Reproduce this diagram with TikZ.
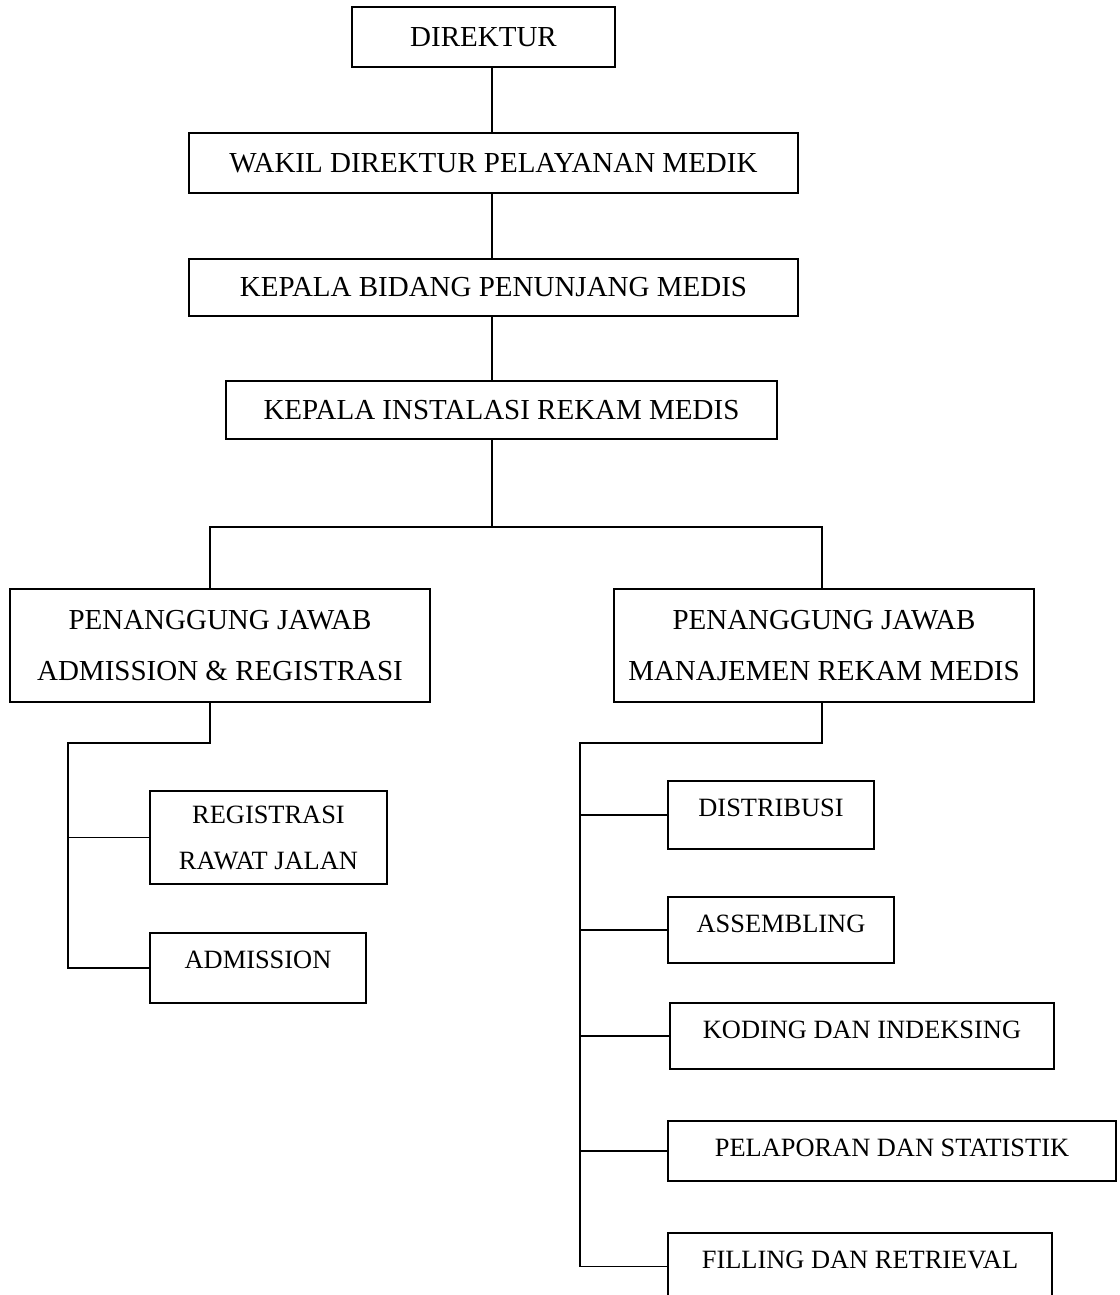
\documentclass[tikz,border=0pt]{standalone}
\usepackage{fontspec}
\setmainfont{Liberation Serif}
\usepackage{tikz}

\begin{document}
\begin{tikzpicture}[x=1pt,y=-1pt,
  box/.style={draw, line width=1.9pt, inner sep=0pt, align=center},
  big/.style={box, font=\fontsize{29}{51}\selectfont},
  small/.style={box, font=\fontsize{26.4}{46}\selectfont},
  topbox/.style={small, text height=35.6pt, text depth=#1},
  link/.style={line width=1.9pt}]
\useasboundingbox (0,0) rectangle (1119,1295);

    % top of the chart
    \node[big, minimum width=263pt, minimum height=60pt] (dir) at (483.5,37) {DIREKTUR};
    \node[big, minimum width=609pt, minimum height=60pt] (wakil) at (493.5,163) {WAKIL DIREKTUR PELAYANAN MEDIK};
    \node[big, minimum width=609pt, minimum height=57pt] (bidang) at (493.5,287.5) {KEPALA BIDANG PENUNJANG MEDIS};
    \node[big, minimum width=551pt, minimum height=58pt] (inst) at (501.5,410) {KEPALA INSTALASI REKAM MEDIS};

    \node[big, minimum width=420pt, minimum height=113pt] (pjadm) at (220,645.5) {PENANGGUNG JAWAB\\ADMISSION \& REGISTRASI};
    \node[big, minimum width=420pt, minimum height=113pt] (pjrm) at (824,645.5) {PENANGGUNG JAWAB\\MANAJEMEN REKAM MEDIS};

    % left branch
    \node[small, minimum width=237pt, minimum height=93pt] (reg) at (268.5,837.5) {REGISTRASI\\RAWAT JALAN};
    \node[topbox=34.4pt, minimum width=216pt] (adm) at (258,968) {ADMISSION};

    % right branch
    \node[topbox=32.4pt, minimum width=206pt] (dis) at (771,815) {DISTRIBUSI};
    \node[topbox=30.4pt, minimum width=226pt] (asm) at (781,930) {ASSEMBLING};
    \node[topbox=30.4pt, minimum width=384pt] (kod) at (862,1036) {KODING DAN INDEKSING};
    \node[topbox=24.4pt, minimum width=448pt] (pel) at (892,1151) {PELAPORAN DAN STATISTIK};
    \node[topbox=31.4pt, minimum width=384pt] (fil) at (860,1266.5) {FILLING DAN RETRIEVAL};

    \coordinate (split) at (492,527);
    \coordinate (jl) at (210,527);
    \coordinate (jr) at (822,527);
    \coordinate (lb) at (68,743);
    \coordinate (rb) at (580,743);

    % draw the lines
    \draw[link] (split |- wakil.north) -- (split |- dir.south);
    \draw[link] (split |- wakil.south) -- (split |- bidang.north);
    \draw[link] (split |- bidang.south) -- (split |- inst.north);
    \draw[link] (split |- inst.south) -- (split);
    \draw[link] (jl |- pjadm.north) -- (jl) -- (jr) -- (jr |- pjrm.north);

    \draw[link] (jl |- pjadm.south) |- (lb) |- (adm.west);
    \draw[link] (lb |- reg.west) -- (reg.west);

    \draw[link] (jr |- pjrm.south) |- (rb) |- (fil.west);
    \foreach \n in {dis,asm,kod,pel}
      \draw[link] (rb |- \n.west) -- (\n.west);

\end{tikzpicture}
\end{document}
